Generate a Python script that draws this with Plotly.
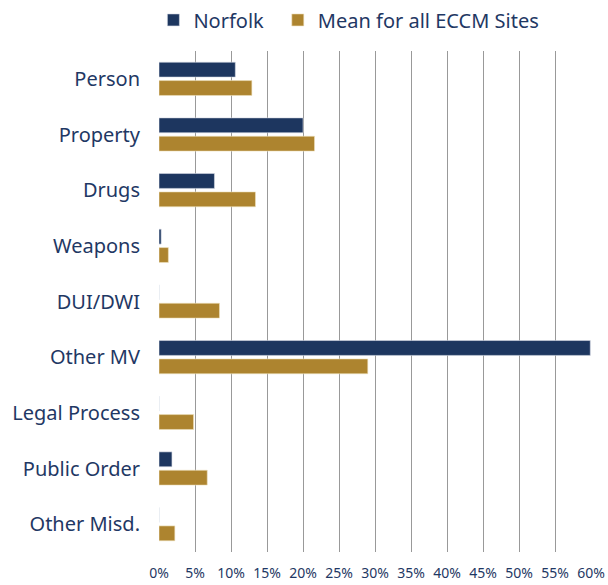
import plotly.graph_objects as go

categories = ["Person", "Property", "Drugs", "Weapons", "DUI/DWI", "Other MV",
              "Legal Process", "Public Order", "Other Misd."]
norfolk = [10.6, 20.0, 7.7, 0.3, 0.0, 59.9, 0.0, 1.8, 0.0]
mean_all = [12.9, 21.6, 13.4, 1.3, 8.4, 29.0, 4.8, 6.7, 2.2]
tick_vals = list(range(0, 65, 5))
tick_text = [f"{v}%" for v in tick_vals]

NAVY = "#1D365F"
GOLD = "#AD842F"
TEXT = "#1F3864"
FONT = "Noto Sans, DejaVu Sans, sans-serif"

fig = go.Figure()
fig.add_trace(go.Bar(y=categories, x=norfolk, orientation="h", name="Norfolk",
                     legend="legend",
                     marker=dict(color=NAVY, line=dict(color="#D6DCE5", width=0.6))))
fig.add_trace(go.Bar(y=categories, x=mean_all, orientation="h", name="Mean for all ECCM Sites",
                     legend="legend2",
                     marker=dict(color=GOLD, line=dict(color="#F0E2C0", width=0.6))))

leg_common = dict(orientation="h", yanchor="middle", y=1.062, xanchor="left",
                  font=dict(size=20, color=TEXT, family=FONT), bgcolor="rgba(0,0,0,0)")
fig.update_layout(
    width=608, height=585,
    margin=dict(l=159, r=17, t=51, b=33, autoexpand=False),
    paper_bgcolor="white", plot_bgcolor="white",
    barmode="group", bargap=0.34, bargroupgap=0.19,
    font=dict(family=FONT, color=TEXT, size=20),
    showlegend=True,
    legend=dict(x=-0.013, **leg_common),
    legend2=dict(x=0.275, **leg_common),
)
fig.update_xaxes(range=[0, 60], tickvals=tick_vals, ticktext=tick_text,
                 showgrid=True, gridcolor="#999999", gridwidth=1.4,
                 zeroline=False, showline=False, ticks="", automargin=False,
                 ticklabelstandoff=11,
                 tickfont=dict(size=14, color=TEXT, family=FONT), fixedrange=True)
fig.update_yaxes(autorange="reversed", showgrid=False, ticks="", automargin=False,
                 tickfont=dict(size=20, color=TEXT, family=FONT), ticklabelstandoff=18,
                 showline=False, fixedrange=True)

fig.write_html("out.html", config={"displayModeBar": False},
               post_script="document.body.style.margin='0';document.body.style.overflow='hidden';")
